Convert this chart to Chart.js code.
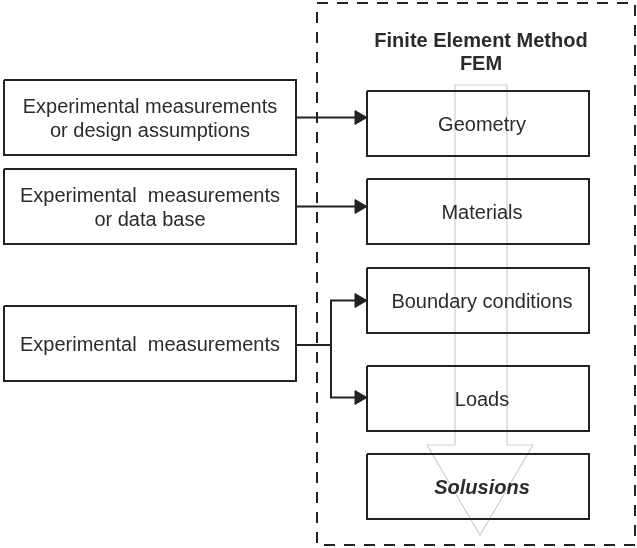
<!DOCTYPE html>
<html>
<head>
<meta charset="utf-8">
<script src="https://cdn.jsdelivr.net/npm/chart.js@4.4.0/dist/chart.umd.min.js"></script>
<style>
  html, body { margin: 0; padding: 0; background: #fff; }
  #wrap { width: 637px; height: 548px; }
</style>
</head>
<body>
<div id="wrap"><canvas id="fem-chart"></canvas></div>
<script>
// Diagram content
var inputLabels = [
    ["Experimental measurements", "or design assumptions"],
    ["Experimental  measurements", "or data base"],
    ["Experimental  measurements"]
];
var femTitle = ["Finite Element Method", "FEM"];
var femSteps = ["Geometry", "Materials", "Boundary conditions", "Loads", "Solusions"];
// which FEM step(s) each input feeds
var inputTargets = [[0], [1], [2, 3]];

// Layout (canvas units, y grows downward)
var W = 637, H = 548;
var leftBox = { x0: 4, x1: 296, h: 75, tops: [80, 169, 306] };
var stepBox = { x0: 367, x1: 589, h: 65, tops: [91, 179, 268, 366, 454] };
var frame = { x0: 317, x1: 635, y0: 3, y1: 545 };
var splitX = 331;
var lineColor = "#222";
var textColor = "#2b2b2b";
var font = "'Liberation Sans', Arial, sans-serif";

function rect(x0, y0, x1, y1) {
    return [{x: x0, y: y0}, {x: x1, y: y0}, {x: x1, y: y1}, {x: x0, y: y1}, {x: x0, y: y0}];
}
function lineSet(points, opts) {
    return Object.assign({
        type: 'line',
        data: points,
        showLine: true,
        fill: false,
        tension: 0,
        pointRadius: 0,
        borderColor: lineColor,
        borderWidth: 2,
        borderJoinStyle: 'miter'
    }, opts || {});
}
function mid(box, i) { return box.tops[i] + box.h / 2; }

var datasets = [];

// input boxes
inputLabels.forEach(function (lbl, i) {
    datasets.push(lineSet(rect(leftBox.x0, leftBox.tops[i], leftBox.x1, leftBox.tops[i] + leftBox.h)));
});
// FEM step boxes
femSteps.forEach(function (s, i) {
    datasets.push(lineSet(rect(stepBox.x0, stepBox.tops[i], stepBox.x1, stepBox.tops[i] + stepBox.h)));
});

// connectors + arrowheads
var arrowTips = [];
inputTargets.forEach(function (targets, i) {
    var ys = mid(leftBox, i) + (i == 2 ? 1.5 : 0);
    if (targets.length == 1) {
        var y = mid(leftBox, i);
        datasets.push(lineSet([{x: leftBox.x1, y: y}, {x: stepBox.x0 - 6, y: y}]));
        arrowTips.push({x: stepBox.x0 - 8, y: y});
    } else {
        var yA = mid(stepBox, targets[0]), yB = mid(stepBox, targets[targets.length - 1]) - 1;
        datasets.push(lineSet([{x: leftBox.x1, y: ys}, {x: splitX, y: ys}]));
        datasets.push(lineSet([{x: stepBox.x0 - 6, y: yA}, {x: splitX, y: yA}, {x: splitX, y: yB}, {x: stepBox.x0 - 6, y: yB}]));
        arrowTips.push({x: stepBox.x0 - 8, y: yA});
        arrowTips.push({x: stepBox.x0 - 8, y: yB});
    }
});
datasets.push({
    type: 'scatter',
    data: arrowTips,
    pointStyle: 'triangle',
    rotation: 90,
    pointRadius: 8,
    pointBackgroundColor: lineColor,
    pointBorderColor: lineColor,
    pointBorderWidth: 1
});

// dashed FEM frame
datasets.push(lineSet(rect(frame.x0, frame.y0, frame.x1, frame.y1), {borderDash: [11, 9], borderJoinStyle: 'bevel'}));

// big hollow process arrow
datasets.push(lineSet([
    {x: 455, y: 85}, {x: 507, y: 85}, {x: 507, y: 445}, {x: 533, y: 445},
    {x: 480, y: 535}, {x: 427, y: 445}, {x: 455, y: 445}, {x: 455, y: 85}
], {borderColor: "#cfcfcf", borderWidth: 1.2}));

var textPlugin = {
    id: 'boxText',
    afterDatasetsDraw: function (chart) {
        var ctx = chart.ctx, sx = chart.scales.x, sy = chart.scales.y;
        ctx.save();
        ctx.fillStyle = textColor;
        ctx.textAlign = 'center';
        ctx.textBaseline = 'middle';
        ctx.font = "20px " + font;
        inputLabels.forEach(function (lines, i) {
            var cx = (leftBox.x0 + leftBox.x1) / 2, cy = mid(leftBox, i) + 2;
            lines.forEach(function (t, k) {
                var y = cy + (k - (lines.length - 1) / 2) * 24;
                ctx.fillText(t, sx.getPixelForValue(cx), sy.getPixelForValue(y));
            });
        });
        femSteps.forEach(function (t, i) {
            var cx = (stepBox.x0 + stepBox.x1) / 2 + 4, cy = mid(stepBox, i) + 2;
            ctx.font = (i == femSteps.length - 1 ? "italic bold 20px " : "20px ") + font;
            ctx.fillText(t, sx.getPixelForValue(cx), sy.getPixelForValue(cy));
        });
        ctx.font = "bold 20px " + font;
        femTitle.forEach(function (t, k) {
            ctx.fillText(t, sx.getPixelForValue(481), sy.getPixelForValue(41 + k * 23));
        });
        ctx.restore();
    }
};

new Chart(document.getElementById("fem-chart"), {
    type: 'scatter',
    data: { datasets: datasets },
    options: {
        responsive: true,
        maintainAspectRatio: false,
        animation: false,
        layout: { padding: 0, autoPadding: false },
        plugins: { legend: { display: false }, tooltip: { enabled: false } },
        scales: {
            x: { type: 'linear', min: 0, max: W, display: false },
            y: { type: 'linear', min: 0, max: H, reverse: true, display: false }
        }
    },
    plugins: [textPlugin]
});
</script>
</body>
</html>
